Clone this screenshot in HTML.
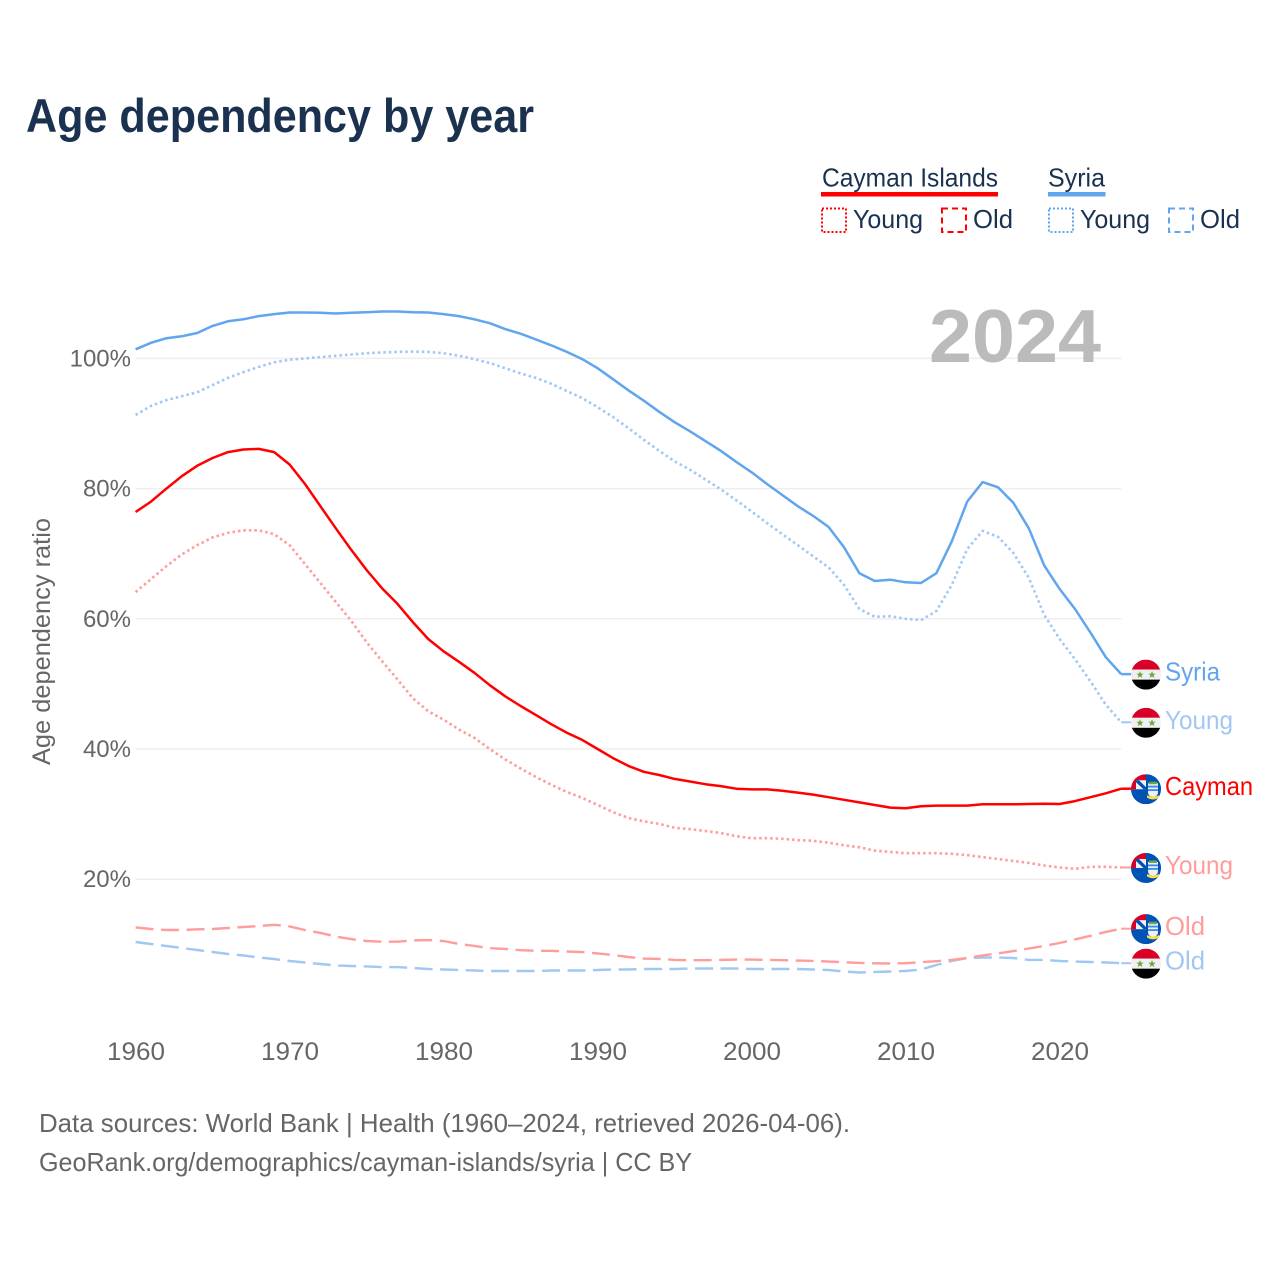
<!DOCTYPE html>
<html lang="en">
<head>
<meta charset="utf-8">
<title>Age dependency by year</title>
<style>
html,body{margin:0;padding:0;background:#fff;width:1280px;height:1280px;overflow:hidden}
svg{display:block;font-family:"Liberation Sans",sans-serif}
</style>
</head>
<body>
<svg id="chart" xmlns="http://www.w3.org/2000/svg" width="1280" height="1280" viewBox="0 0 1280 1280">
<defs>
<clipPath id="flag-clip-shape"><circle cx="0" cy="0" r="15"/></clipPath>
<g id="syria-flag">
<g clip-path="url(#flag-clip-shape)">
<rect x="-15" y="-15" width="30" height="10" fill="#d80027"/>
<rect x="-15" y="-5" width="30" height="10" fill="#f0f0f0"/>
<rect x="-15" y="5" width="30" height="10" fill="#000"/>
<polygon points="-6,-3.500 -5,-1 -2.400,-1 -4.400,0.700 -3.700,3.300 -6,1.800 -8.300,3.300 -7.600,0.700 -9.600,-1 -7,-1" fill="#6da544"/>
<polygon points="6,-3.500 7,-1 9.600,-1 7.600,0.700 8.300,3.300 6,1.800 3.700,3.300 4.400,0.700 2.400,-1 5,-1" fill="#6da544"/>
</g>
</g>
<g id="cayman-flag">
<g clip-path="url(#flag-clip-shape)">
<rect x="-15" y="-15" width="30" height="30" fill="#0052b4"/>
<rect x="-15" y="-15" width="15" height="15" fill="#f0f0f0"/>
<rect x="-15" y="-15" width="15" height="6" fill="#d80027"/>
<rect x="-15" y="-15" width="5" height="15" fill="#d80027"/>
<polygon points="-10,-9 -7,-9 0,-2 0,0 -2.500,0 -10,-7" fill="#0052b4"/>
<rect x="0" y="-15" width="15" height="15" fill="#0052b4"/>
<path d="M2,-6 h10 v9 q0,4 -5,5 q-5,-1 -5,-5 z" fill="#f0f0f0"/>
<rect x="3" y="-7.500" width="8" height="2.500" fill="#6da544"/>
<rect x="2" y="-3.500" width="10" height="1.800" fill="#338af3"/>
<rect x="2" y="0" width="10" height="1.800" fill="#338af3"/>
<path d="M1,6 q6,3 12,0 v2.500 q-6,3.500 -12,0 z" fill="#ffda44"/>
</g>
</g>
</defs>

<rect width="1280" height="1280" fill="#fff"/>
<text x="26" y="132" font-size="47" font-weight="700" fill="#1a3250" textLength="508" lengthAdjust="spacingAndGlyphs">Age dependency by year</text>

<g font-size="26" fill="#1a3250">
<text x="822" y="186.500" textLength="176" lengthAdjust="spacingAndGlyphs">Cayman Islands</text>
<rect x="821" y="192" width="177" height="4.500" fill="#ff0000"/>
<rect x="822" y="208.500" width="24" height="23.500" fill="none" stroke="#ff0000" stroke-width="2" stroke-dasharray="2 2"/>
<text x="853" y="228" textLength="70" lengthAdjust="spacingAndGlyphs">Young</text>
<rect x="942" y="208.500" width="24" height="23.500" fill="none" stroke="#ff0000" stroke-width="2" stroke-dasharray="6 4"/>
<text x="973" y="228" textLength="40" lengthAdjust="spacingAndGlyphs">Old</text>
<text x="1048" y="186.500" textLength="57" lengthAdjust="spacingAndGlyphs">Syria</text>
<rect x="1048" y="192" width="57.500" height="4.500" fill="#60a5ee"/>
<rect x="1049" y="208.500" width="24" height="23.500" fill="none" stroke="#60a5ee" stroke-width="2" stroke-dasharray="2 2"/>
<text x="1080" y="228" textLength="70" lengthAdjust="spacingAndGlyphs">Young</text>
<rect x="1169" y="208.500" width="24" height="23.500" fill="none" stroke="#60a5ee" stroke-width="2" stroke-dasharray="6 4"/>
<text x="1200" y="228" textLength="40" lengthAdjust="spacingAndGlyphs">Old</text>
</g>

<g id="grid"></g>
<text x="1101" y="362" text-anchor="end" font-size="75" font-weight="700" fill="#bbbbbb" textLength="172" lengthAdjust="spacingAndGlyphs">2024</text>
<g id="yticks"></g>
<g id="xticks"></g>
<text transform="translate(50,641.500) rotate(-90)" text-anchor="middle" font-size="25" fill="#666" textLength="247" lengthAdjust="spacingAndGlyphs">Age dependency ratio</text>
<g id="series"></g>
<g id="endmarks"></g>

<g font-size="26" fill="#666">
<text x="39" y="1132" textLength="811" lengthAdjust="spacingAndGlyphs">Data sources: World Bank | Health (1960–2024, retrieved 2026-04-06).</text>
<text x="39" y="1171" textLength="653" lengthAdjust="spacingAndGlyphs">GeoRank.org/demographics/cayman-islands/syria | CC BY</text>
</g>

<script>
var firstYear = 1960;
var xTickLabels = [1960, 1970, 1980, 1990, 2000, 2010, 2020];
var yTickLabels = [20, 40, 60, 80, 100];

var syriaTotal = [101.4,102.4,103.1,103.4,103.9,105,105.7,106,106.5,106.8,107.05,107.05,107,106.9,107,107.1,107.2,107.2,107.1,107.05,106.8,106.5,106,105.4,104.5,103.8,102.9,102,101,99.9,98.5,96.8,95.1,93.5,91.8,90.2,88.8,87.3,85.8,84.1,82.5,80.7,79,77.3,75.8,74.1,71,67,65.8,66,65.6,65.5,67,71.9,78,81,80.2,77.8,73.9,68.2,64.6,61.5,57.9,54.1,51.5];
var syriaYoung = [91.3,92.7,93.6,94.2,94.8,95.9,97,97.9,98.7,99.4,99.8,100,100.2,100.4,100.6,100.8,100.9,101,101.05,101,100.8,100.4,99.9,99.3,98.5,97.7,97,96.1,95,93.9,92.5,91,89.3,87.5,85.8,84.2,82.9,81.4,79.9,78.2,76.5,74.7,73,71.3,69.6,67.9,65.2,61.5,60.3,60.4,60,59.8,61.2,65.2,70.7,73.5,72.6,70.1,66.3,60.6,56.9,53.8,50.4,46.8,44.1];
var syriaOld = [10.35,10.05,9.74,9.43,9.12,8.82,8.51,8.28,7.97,7.74,7.43,7.2,6.97,6.74,6.67,6.6,6.5,6.5,6.36,6.2,6.13,6.05,5.97,5.9,5.9,5.9,5.9,5.97,5.97,5.97,6.05,6.13,6.13,6.2,6.2,6.2,6.28,6.28,6.28,6.28,6.2,6.2,6.2,6.2,6.13,6.05,5.82,5.67,5.74,5.82,5.9,6.13,6.82,7.43,7.9,7.97,7.97,7.9,7.6,7.6,7.43,7.36,7.28,7.2,7.1];
var caymanTotal = [76.4,78,80,81.9,83.5,84.7,85.6,86,86.1,85.6,83.7,80.7,77.3,73.9,70.6,67.5,64.7,62.3,59.5,56.9,55,53.4,51.7,49.8,48.1,46.6,45.2,43.8,42.5,41.4,40,38.6,37.4,36.5,36,35.4,35,34.6,34.3,33.9,33.8,33.8,33.6,33.3,33,32.6,32.2,31.8,31.4,31,30.9,31.2,31.3,31.3,31.3,31.5,31.5,31.5,31.55,31.6,31.55,32,32.6,33.2,33.9];
var caymanYoung = [64.1,66.1,68.1,69.9,71.3,72.5,73.2,73.6,73.6,73,71.3,68.4,65.5,62.6,59.7,56.4,53.5,50.7,47.8,45.8,44.5,43,41.7,40,38.4,37,35.7,34.5,33.4,32.5,31.4,30.3,29.4,28.9,28.5,27.9,27.7,27.4,27.1,26.6,26.3,26.3,26.2,26,25.9,25.6,25.2,24.9,24.4,24.2,24,24,24,23.9,23.7,23.4,23.1,22.8,22.5,22.1,21.8,21.6,21.9,21.9,21.8];
var caymanOld = [12.6,12.35,12.2,12.2,12.3,12.35,12.5,12.65,12.8,13,12.75,12.2,11.75,11.2,10.8,10.5,10.4,10.4,10.6,10.65,10.5,10.05,9.75,9.4,9.3,9.1,9,9,8.9,8.8,8.6,8.35,8.05,7.8,7.75,7.6,7.55,7.55,7.6,7.65,7.65,7.6,7.55,7.5,7.45,7.35,7.25,7.15,7.08,7.05,7.1,7.25,7.4,7.6,7.9,8.3,8.6,8.95,9.35,9.75,10.2,10.75,11.3,11.9,12.4];

var plotX0 = 135.6, pxPerYear = 15.4, plotY0 = 1009.4, pxPerPct = 6.51;
function xScale(year) { return plotX0 + (year - firstYear) * pxPerYear; }
function yScale(pct) { return plotY0 - pct * pxPerPct; }
var NS = 'http://www.w3.org/2000/svg';
function make(tag, parent) { var el = document.createElementNS(NS, tag); document.getElementById(parent).appendChild(el); return el; }

yTickLabels.forEach(function (v) {
  var line = make('line', 'grid');
  
  
  line.setAttribute('x1', xScale(firstYear));
  line.setAttribute('x2', xScale(2024));
  line.setAttribute('y1', yScale(v));
  line.setAttribute('y2', yScale(v));
  line.setAttribute('stroke', '#eeeeee');
  line.setAttribute('stroke-width', '1.5');
  var t = make('text', 'yticks');
  
  
  t.setAttribute('x', 131);
  t.setAttribute('y', yScale(v) + 8);
  t.setAttribute('text-anchor', 'end');
  t.setAttribute('font-size', '24');
  t.setAttribute('fill', '#666');
  t.textContent = v + '%';
});

xTickLabels.forEach(function (v) {
  var t = make('text', 'xticks');
  
  
  t.setAttribute('x', xScale(v) + 0.4);
  t.setAttribute('y', 1060);
  t.setAttribute('text-anchor', 'middle');
  t.setAttribute('font-size', '25');
  t.setAttribute('fill', '#666');
  t.setAttribute('textLength', '58');
  t.setAttribute('lengthAdjust', 'spacingAndGlyphs');
  t.textContent = String(v);
});

function drawLine(values, color, width, dash, name) {
  var p = make('polyline', 'series');
  
  
  p.setAttribute('points', values.map(function (v, i) { return xScale(firstYear + i).toFixed(1) + ',' + yScale(v).toFixed(1); }).join(' '));
  p.setAttribute('fill', 'none');
  p.setAttribute('stroke', color);
  p.setAttribute('stroke-width', width);
  p.setAttribute('stroke-linejoin', 'round');
  if (dash) p.setAttribute('stroke-dasharray', dash);
}
drawLine(syriaOld, '#a0c8f2', 2.4, '18 7.5', 'syria-old-line');
drawLine(caymanOld, '#ff9c9c', 2.4, '18 7.5', 'cayman-old-line');
drawLine(syriaYoung, '#a0c8f2', 2.6, '2.5 3', 'syria-young-line');
drawLine(caymanYoung, '#ff9c9c', 2.6, '2.5 3', 'cayman-young-line');
drawLine(syriaTotal, '#60a5ee', 2.5, '', 'syria-total-line');
drawLine(caymanTotal, '#ff0000', 2.5, '', 'cayman-total-line');

function drawEnd(values, flag, text, color, width, textLen, name) {
  var last = yScale(values[values.length - 1]);
  var c = make('line', 'endmarks');
  
  
  c.setAttribute('x1', xScale(2024));
  c.setAttribute('x2', 1132);
  c.setAttribute('y1', last);
  c.setAttribute('y2', last);
  c.setAttribute('stroke', color);
  c.setAttribute('stroke-width', width);
  var u = make('use', 'endmarks');
  
  
  u.setAttribute('href', '#' + flag);
  u.setAttribute('transform', 'translate(1146,' + (last + 0.5) + ')');
  var t = make('text', 'endmarks');
  
  
  t.setAttribute('x', 1165);
  t.setAttribute('y', last + 6.5);
  t.setAttribute('font-size', '26');
  t.setAttribute('fill', color);
  t.setAttribute('textLength', textLen);
  t.setAttribute('lengthAdjust', 'spacingAndGlyphs');
  t.textContent = text;
}
drawEnd(syriaTotal, 'syria-flag', 'Syria', '#60a5ee', 2.5, 55, 'syria-total');
drawEnd(syriaYoung, 'syria-flag', 'Young', '#a0c8f2', 2, 68, 'syria-young');
drawEnd(caymanTotal, 'cayman-flag', 'Cayman', '#ff0000', 2.5, 88, 'cayman-total');
drawEnd(caymanYoung, 'cayman-flag', 'Young', '#ff9c9c', 2, 68, 'cayman-young');
drawEnd(caymanOld, 'cayman-flag', 'Old', '#ff9c9c', 2, 40, 'cayman-old');
drawEnd(syriaOld, 'syria-flag', 'Old', '#a0c8f2', 2, 40, 'syria-old');
</script>
</svg>
</body>
</html>
